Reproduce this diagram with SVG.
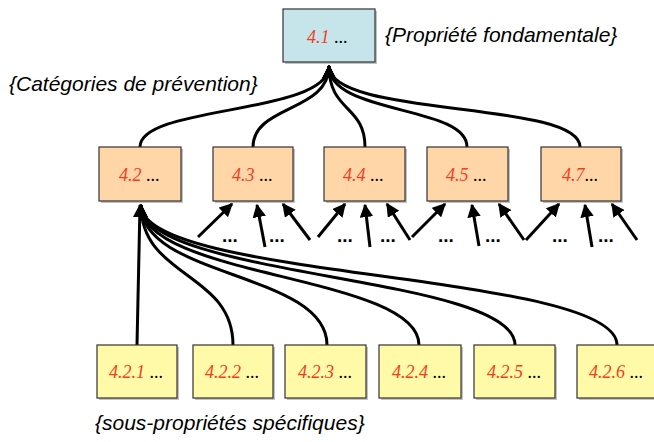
<svg xmlns="http://www.w3.org/2000/svg" width="654" height="442" viewBox="0 0 654 442">
<defs>
<marker id="ah" viewBox="0 0 10 10" refX="9" refY="5" markerWidth="4.5" markerHeight="4.5" orient="auto" markerUnits="strokeWidth">
<path d="M0,0 L10,5 L0,10 z" fill="#000"/>
</marker>
</defs>
<style>
.box{stroke:#333;stroke-width:1.2}
.sh{fill:#9a9a9a;opacity:0.6}
.top{fill:#c6e5ea}
.mid{fill:#ffd6a8}
.bot{fill:#fffaa8}
.num{font-family:"Liberation Serif",serif;font-style:italic;font-size:18px;fill:#f23d1e}
.dots{font-family:"Liberation Serif",serif;font-size:18px;fill:#000}
.lbl{font-family:"Liberation Sans",Arial,sans-serif;font-style:italic;font-size:21px;fill:#000}
.conn path{fill:none;stroke:#000;stroke-width:3}
.arr{marker-end:url(#ah)}
.ell{font-family:"Liberation Sans",Arial,sans-serif;font-weight:bold;font-size:19px;fill:#000}
</style>

<g id="connectors" class="conn">
<!-- top fan into 4.1 -->
<path class="arr" d="M140,147 C140,105 329,115 329,66"/>
<path class="arr" d="M253,147 C253,105 329,112 329,66"/>
<path class="arr" d="M365,147 C365,105 329,112 329,66"/>
<path class="arr" d="M467,147 C467,105 329,115 329,66"/>
<path class="arr" d="M580,147 C580,100 329,118 329,66"/>
<!-- bottom fan into 4.2 -->
<path class="arr" d="M137,345 L140,205"/>
<path class="arr" d="M233,345 C233,272 141,278 141,205"/>
<path class="arr" d="M327,345 C327,272 141,278 141,205"/>
<path class="arr" d="M419,345 C419,275 141,278 141,205"/>
<path class="arr" d="M515,345 C515,275 141,278 141,205"/>
<path class="arr" d="M617,345 C617,272 141,280 141,205"/>
<!-- incoming arrows 4.3 -->
<path class="arr" d="M198,237 L232,204"/>
<path class="arr" d="M265,247 L257,205"/>
<path class="arr" d="M310,240 L283,204"/>
<!-- 4.4 -->
<path class="arr" d="M318,237 L345,204"/>
<path class="arr" d="M370,247 L365,205"/>
<path class="arr" d="M410,240 L387,204"/>
<!-- 4.5 -->
<path class="arr" d="M412,237 L445,204"/>
<path class="arr" d="M479,246 L472,205"/>
<path class="arr" d="M524,240 L499,204"/>
<!-- 4.7 -->
<path class="arr" d="M526,240 L559,204"/>
<path class="arr" d="M592,247 L585,205"/>
<path class="arr" d="M637,240 L612,204"/>
</g>

<g id="ellipses">
<text class="ell" x="222" y="242">...</text>
<text class="ell" x="269" y="242">...</text>
<text class="ell" x="337" y="242">...</text>
<text class="ell" x="380" y="242">...</text>
<text class="ell" x="438" y="242">...</text>
<text class="ell" x="485" y="242">...</text>
<text class="ell" x="552" y="242">...</text>
<text class="ell" x="598" y="242">...</text>
</g>

<g id="n41">
<rect class="sh" x="285" y="11" width="92" height="53"/>
<rect class="box top" x="283" y="9" width="92" height="53"/>
<text x="307" y="43"><tspan class="num">4.1</tspan><tspan class="dots"> ...</tspan></text>
</g>

<g id="n42">
<rect class="sh" x="101" y="149" width="82" height="54"/>
<rect class="box mid" x="99" y="147" width="82" height="54"/>
<text x="119" y="181"><tspan class="num">4.2</tspan><tspan class="dots"> ...</tspan></text>
</g>
<g id="n43">
<rect class="sh" x="215" y="149" width="80" height="54"/>
<rect class="box mid" x="213" y="147" width="80" height="54"/>
<text x="232" y="181"><tspan class="num">4.3</tspan><tspan class="dots"> ...</tspan></text>
</g>
<g id="n44">
<rect class="sh" x="326" y="149" width="81" height="54"/>
<rect class="box mid" x="324" y="147" width="81" height="54"/>
<text x="343" y="181"><tspan class="num">4.4</tspan><tspan class="dots"> ...</tspan></text>
</g>
<g id="n45">
<rect class="sh" x="429" y="149" width="81" height="54"/>
<rect class="box mid" x="427" y="147" width="81" height="54"/>
<text x="446" y="181"><tspan class="num">4.5</tspan><tspan class="dots"> ...</tspan></text>
</g>
<g id="n47">
<rect class="sh" x="543" y="149" width="80" height="54"/>
<rect class="box mid" x="541" y="147" width="80" height="54"/>
<text x="562" y="181"><tspan class="num">4.7</tspan><tspan class="dots">...</tspan></text>
</g>

<g id="n421">
<rect class="sh" x="99" y="347" width="80" height="53"/>
<rect class="box bot" x="97" y="345" width="80" height="53"/>
<text x="109" y="378"><tspan class="num">4.2.1</tspan><tspan class="dots"> ...</tspan></text>
</g>
<g id="n422">
<rect class="sh" x="195" y="347" width="80" height="53"/>
<rect class="box bot" x="193" y="345" width="80" height="53"/>
<text x="205" y="378"><tspan class="num">4.2.2</tspan><tspan class="dots"> ...</tspan></text>
</g>
<g id="n423">
<rect class="sh" x="287" y="347" width="81" height="53"/>
<rect class="box bot" x="285" y="345" width="81" height="53"/>
<text x="298" y="378"><tspan class="num">4.2.3</tspan><tspan class="dots"> ...</tspan></text>
</g>
<g id="n424">
<rect class="sh" x="381" y="347" width="82" height="53"/>
<rect class="box bot" x="379" y="345" width="82" height="53"/>
<text x="392" y="378"><tspan class="num">4.2.4</tspan><tspan class="dots"> ...</tspan></text>
</g>
<g id="n425">
<rect class="sh" x="476" y="347" width="81" height="53"/>
<rect class="box bot" x="474" y="345" width="81" height="53"/>
<text x="487" y="378"><tspan class="num">4.2.5</tspan><tspan class="dots"> ...</tspan></text>
</g>
<g id="n426">
<rect class="sh" x="579" y="347" width="82" height="53"/>
<rect class="box bot" x="577" y="345" width="82" height="53"/>
<text x="589" y="378"><tspan class="num">4.2.6</tspan><tspan class="dots"> ...</tspan></text>
</g>

<g id="labels">
<text class="lbl" x="385" y="42">{Propriété fondamentale}</text>
<text class="lbl" x="9" y="91">{Catégories de prévention}</text>
<text class="lbl" x="95" y="430">{sous-propriétés spécifiques}</text>
</g>
</svg>
